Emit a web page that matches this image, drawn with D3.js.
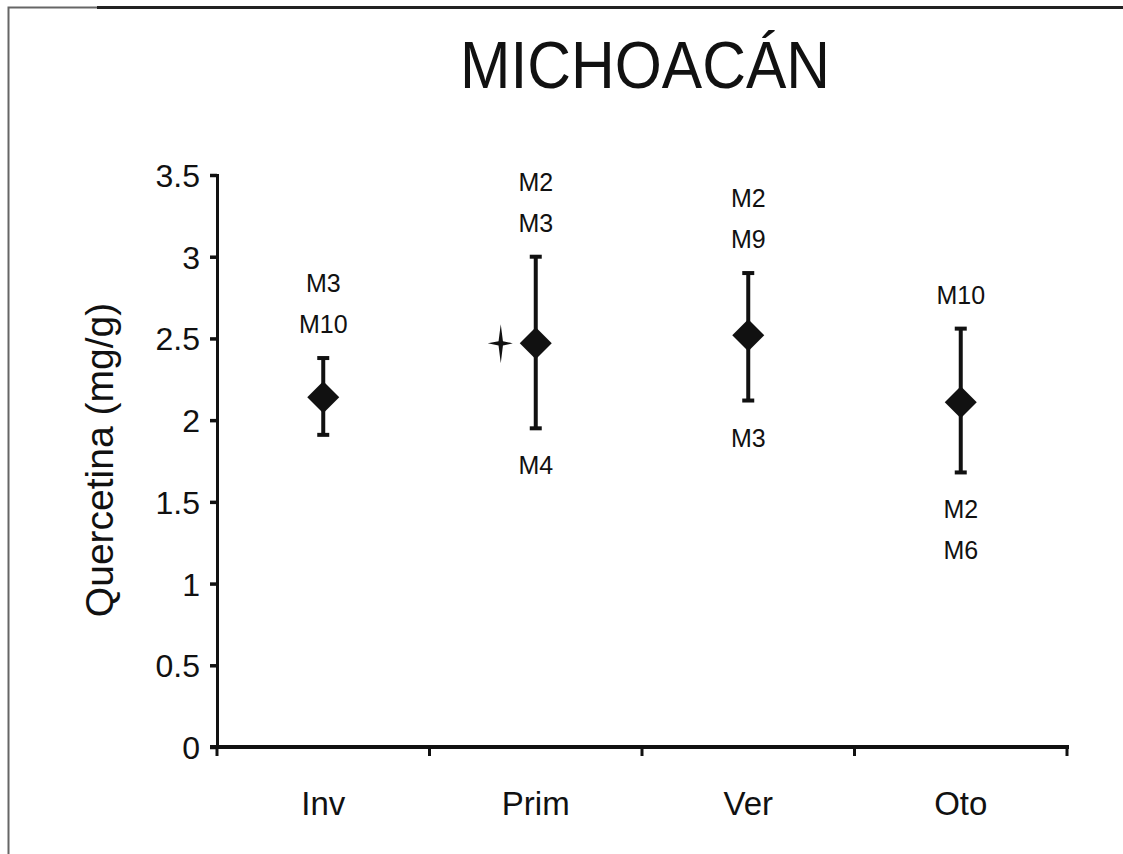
<!DOCTYPE html>
<html>
<head>
<meta charset="utf-8">
<script src="https://cdn.jsdelivr.net/npm/d3@7"></script>
<style>
  html, body { margin: 0; padding: 0; background: #fff; }
  svg { display: block; }
  text { font-family: "Liberation Sans", Arial, sans-serif; fill: #111; }
</style>
</head>
<body>
<div id="chart"></div>
<script>
// Quercetina por estación, Michoacán
const seasons = ["Inv", "Prim", "Ver", "Oto"]
const means = [2.14, 2.47, 2.52, 2.11]
const upper = [2.38, 3.00, 2.90, 2.56]
const lower = [1.91, 1.95, 2.12, 1.68]
const labelsAbove = [["M3", "M10"], ["M2", "M3"], ["M2", "M9"], ["M10"]]
const labelsBelow = [[], ["M4"], ["M3"], ["M2", "M6"]]
const yTicks = [0, 0.5, 1, 1.5, 2, 2.5, 3, 3.5]

const W = 1123, H = 854
const svg = d3.select("#chart").append("svg")
  .attr("width", W).attr("height", H)

// scanned page frame
svg.append("path")
  .attr("d", "M8.5,854 V7.5 H97")
  .attr("fill", "none").attr("stroke", "#666").attr("stroke-width", 2)
svg.append("line")
  .attr("x1", 97).attr("x2", W).attr("y1", 7.5).attr("y2", 7.5)
  .attr("stroke", "#222").attr("stroke-width", 3)

const x = d3.scaleBand().domain(seasons).range([217, 1067])
const y = d3.scaleLinear().domain([0, 3.5]).range([747, 175])
const cx = d => x(d) + x.bandwidth() / 2

// title
svg.append("text")
  .attr("x", 645).attr("y", 88)
  .attr("text-anchor", "middle")
  .attr("textLength", 370)
  .attr("lengthAdjust", "spacingAndGlyphs")
  .style("font-size", "67px")
  .text("MICHOACÁN")

// y axis
const yAxis = svg.append("g")
  .attr("transform", "translate(217,0)")
  .call(d3.axisLeft(y).tickValues(yTicks).tickSize(7).tickPadding(10).tickFormat(d3.format("")))
yAxis.select(".domain").attr("stroke", "#111").attr("stroke-width", 3)
yAxis.selectAll(".tick line").attr("stroke", "#111").attr("stroke-width", 3.5)
yAxis.selectAll(".tick text")
  .style("font-size", "32px").style("font-family", "Liberation Sans, Arial, sans-serif")
  .attr("fill", "#111").attr("dy", "0.36em")

// x axis: line with ticks at band boundaries
const xAxis = svg.append("g").attr("transform", `translate(0,${y(0)})`)
xAxis.append("line")
  .attr("x1", 210).attr("x2", 1069)
  .attr("stroke", "#111").attr("stroke-width", 4)
const edges = seasons.map(d => x(d)).concat([x(seasons[seasons.length - 1]) + x.bandwidth()])
xAxis.selectAll(".xt").data(edges).enter().append("line")
  .attr("x1", d => d).attr("x2", d => d)
  .attr("y1", 0).attr("y2", 9)
  .attr("stroke", "#111").attr("stroke-width", 3)
xAxis.selectAll(".xl").data(seasons).enter().append("text")
  .attr("x", d => cx(d)).attr("y", 68)
  .attr("text-anchor", "middle")
  .style("font-size", "33px")
  .text(d => d)

// y label
svg.append("text")
  .attr("transform", "translate(113,460) rotate(-90)")
  .attr("text-anchor", "middle")
  .style("font-size", "39px")
  .text("Quercetina (mg/g)")

// error bars
const g = svg.append("g")
seasons.forEach((s, i) => {
  const px = cx(s)
  g.append("line")
    .attr("x1", px).attr("x2", px)
    .attr("y1", y(upper[i])).attr("y2", y(lower[i]))
    .attr("stroke", "#111").attr("stroke-width", 4)
  ;[upper[i], lower[i]].forEach(v => {
    g.append("line")
      .attr("x1", px - 6).attr("x2", px + 6)
      .attr("y1", y(v)).attr("y2", y(v))
      .attr("stroke", "#111").attr("stroke-width", 4)
  })
  g.append("path")
    .attr("transform", `translate(${px},${y(means[i])})`)
    .attr("d", "M0,-16 L16,0 L0,16 L-16,0 Z")
    .attr("fill", "#111")

  labelsAbove[i].slice().reverse().forEach((lab, k) => {
    g.append("text")
      .attr("x", px).attr("y", y(upper[i]) - 25 - k * 41)
      .attr("text-anchor", "middle")
      .style("font-size", "25px")
      .text(lab)
  })
  labelsBelow[i].forEach((lab, k) => {
    g.append("text")
      .attr("x", px).attr("y", y(lower[i]) + 46 + k * 41)
      .attr("text-anchor", "middle")
      .style("font-size", "25px")
      .text(lab)
  })
})

// small star mark beside Prim
g.append("path")
  .attr("transform", `translate(${cx("Prim") - 35},${y(means[1])})`)
  .attr("d", "M0,-19 L2.2,-2.2 L12,0 L2.2,2.2 L0,20 L-2.2,2.2 L-13,0 L-2.2,-2.2 Z")
  .attr("fill", "#111")
</script>
</body>
</html>
